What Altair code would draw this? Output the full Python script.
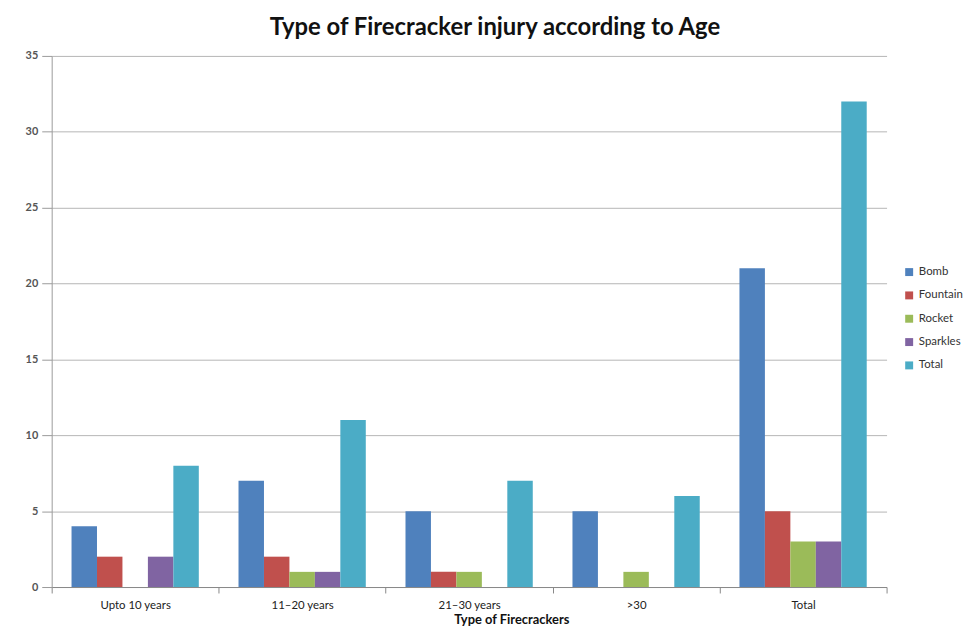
import altair as alt
import pandas as pd

groups = ["Upto 10 years", "11\u201320 years", "21\u201330 years", ">30", "Total"]
series = ["Bomb", "Fountain", "Rocket", "Sparkles", "Total"]
bomb = [4, 7, 5, 5, 21]
fountain = [2, 2, 1, 0, 5]
rocket = [0, 1, 1, 1, 3]
sparkles = [2, 1, 0, 0, 3]
total = [8, 11, 7, 6, 32]
colors = ["#4F81BD", "#C0504D", "#9BBB59", "#8064A2", "#4BACC6"]

rows = []
for s, vals in zip(series, [bomb, fountain, rocket, sparkles, total]):
    for g, v in zip(groups, vals):
        rows.append({"Group": g, "Series": s, "Value": v})
df = pd.DataFrame(rows)

font = "Lato"

chart = alt.Chart(df).mark_bar(stroke=None).encode(
    x=alt.X("Group:N", sort=groups,
            scale=alt.Scale(paddingInner=0, paddingOuter=0),
            axis=alt.Axis(title="Type of Firecrackers", labelAngle=0, tickBand="extent",
                          grid=False, tickSize=6, tickColor="#888888", domainColor="#888888",
                          labelFontSize=11.5, labelColor="#222222", labelPadding=7,
                          titleFontSize=13, titleFontWeight="bold", titlePadding=2,
                          titleX=463, titleColor="#111111", labelFont=font, titleFont=font)),
    xOffset=alt.XOffset("Series:N", sort=series,
                        scale=alt.Scale(paddingInner=0, paddingOuter=0.78)),
    y=alt.Y("Value:Q", scale=alt.Scale(domain=[0, 35]),
            axis=alt.Axis(title=None, values=[0, 5, 10, 15, 20, 25, 30, 35],
                          tickSize=10, tickColor="#9a9a9a", domainColor="#9a9a9a",
                          gridColor="#b5b5b5", labelFontSize=11, labelColor="#555555",
                          labelFontWeight="bold", labelPadding=4, labelFont=font)),
    color=alt.Color("Series:N", sort=series,
                    scale=alt.Scale(domain=series, range=colors),
                    legend=alt.Legend(title=None, orient="none", legendX=858, legendY=212,
                                      symbolType="square", symbolSize=64, symbolStrokeWidth=0,
                                      labelFontSize=11.5, labelColor="#333333", labelFont=font,
                                      rowPadding=10.5, labelOffset=4, labelLimit=200)),
).properties(
    width=841, height=535,
    title=alt.TitleParams("Type of Firecracker injury according to Age", fontSize=24,
                          fontWeight="bold", font=font, color="#111111", offset=10,
                          anchor="middle", dx=26),
    autosize=alt.AutoSizeParams(type="none"),
    padding={"left": 44, "top": 46, "right": 80, "bottom": 38},
    background="white",
).configure_view(stroke=None)

chart.save("out.html", embed_options={"renderer": "svg", "actions": False})
